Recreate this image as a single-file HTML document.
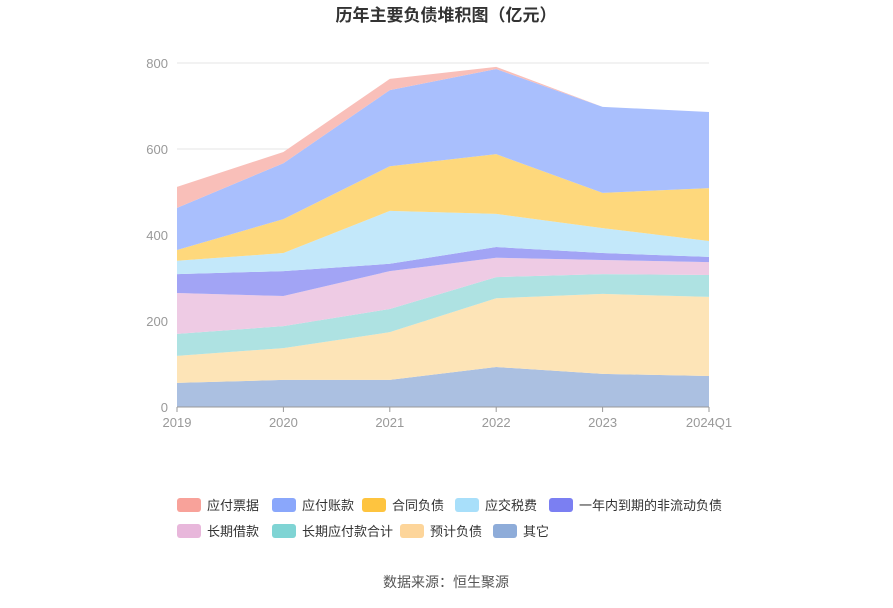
<!DOCTYPE html>
<html><head><meta charset="utf-8">
<style>
body{margin:0;background:#fff;font-family:"Liberation Sans","Noto Sans CJK SC",sans-serif;}
svg text{font-family:"Liberation Sans","Noto Sans CJK SC",sans-serif;}
</style></head>
<body>
<svg id="chart" width="893" height="603" viewBox="0 0 893 603" xmlns="http://www.w3.org/2000/svg">
<text x="446" y="21" text-anchor="middle" font-size="17" font-weight="bold" fill="#333">历年主要负债堆积图（亿元）</text>
<g id="grid"></g>
<g id="areas"></g>
<g id="axes"></g>
<g id="legend"></g>
<text x="446" y="587" text-anchor="middle" font-size="14" fill="#555">数据来源：恒生聚源</text>
</svg>
<script>
const categories=["2019","2020","2021","2022","2023","2024Q1"];
const seriesNames=["其它","预计负债","长期应付款合计","长期借款","一年内到期的非流动负债","应交税费","合同负债","应付账款","应付票据"];
const other=[56,63,63,93,77,72];
const provisions=[63,74,111,160,186,184];
const longPayables=[51,51,54,49,46,51];
const longLoans=[95,70,88,45,33,30];
const currentNonCurrent=[44,58,17,25,16,12];
const taxes=[31,42,123,77,58,37];
const contractLiab=[25,79,104,139,82,123];
const accountsPayable=[98,130,177,198,200,177];
const notesPayable=[49,26,26,5,0,0];
const yTicks=[0,200,400,600,800];
const seriesData=[other,provisions,longPayables,longLoans,currentNonCurrent,taxes,contractLiab,accountsPayable,notesPayable];
const areaColors=["#abc0e1","#fde4b7","#aee2e2","#eecbe4","#a2a4f5","#c3e8fa","#fed87c","#a9bffd","#f9bfb9"];
const iconColors=["#8eacd9","#fdd59a","#7fd4d4","#e8b7db","#7b7ff2","#a8dffa","#fec43f","#8aa7fb","#f8a29a"];
const ns="http://www.w3.org/2000/svg";
const X0=177,X1=709,Y0=407,Ymax=800,PH=344;
function xs(i){return X0+i*(X1-X0)/(categories.length-1);}
function ys(v){return Y0-v/Ymax*PH;}
function mk(t,a,p){const e=document.createElementNS(ns,t);for(const k in a)e.setAttribute(k,a[k]);p.appendChild(e);return e;}
const grid=document.getElementById('grid'),axes=document.getElementById('axes'),areas=document.getElementById('areas'),legend=document.getElementById('legend');
yTicks.forEach(v=>{
  const l=mk('line',{x1:X0,x2:X1,y1:ys(v),y2:ys(v),stroke:v===0?'#999':'#e6e6e6','stroke-width':1},v===0?axes:grid);
  
  
  const t=mk('text',{x:168,y:ys(v)+5,'text-anchor':'end','font-size':13,fill:'#999'},axes);
  t.textContent=v;
  
  
});
categories.forEach((c,i)=>{
  const tk=mk('line',{x1:xs(i),x2:xs(i),y1:Y0,y2:Y0+5,stroke:'#999'},axes);
  
  
  const t=mk('text',{x:xs(i),y:Y0+20,'text-anchor':'middle','font-size':13,fill:'#999'},axes);
  t.textContent=c;
  
  
});
let base=categories.map(()=>0);
seriesData.forEach((arr,s)=>{
  const top=base.map((b,i)=>b+arr[i]);
  let d='';
  top.forEach((v,i)=>{d+=(i?'L':'M')+xs(i)+','+ys(v);});
  for(let i=base.length-1;i>=0;i--)d+='L'+xs(i)+','+ys(base[i]);
  d+='Z';
  const p=mk('path',{d:d,fill:areaColors[s]},areas);
  
  
  base=top;
});
const legendOrder=[8,7,6,5,4,3,2,1,0];
const legendPos=[[177,505],[272,505],[362,505],[455,505],[549,505],[177,531],[272,531],[400,531],[493,531]];
legendOrder.forEach((s,k)=>{
  const [lx,ly]=legendPos[k];
  const g=mk('g',{},legend);
  
  
  mk('rect',{x:lx,y:ly-7,width:24,height:14,rx:3,fill:iconColors[s]},g);
  const t=mk('text',{x:lx+30,y:ly+5,'font-size':13,fill:'#333'},g);
  t.textContent=seriesNames[s];
});
</script>
</body></html>
